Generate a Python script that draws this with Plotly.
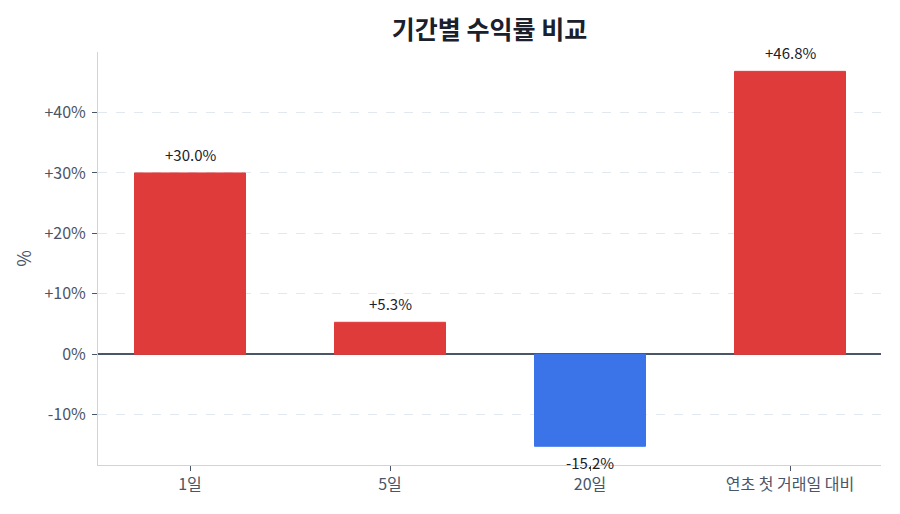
import plotly.graph_objects as go

# 기간별 수익률 데이터
periods = ["1일", "5일", "20일", "연초 첫 거래일 대비"]
returns = [30.0, 5.3, -15.2, 46.8]

tick_vals = [-10, 0, 10, 20, 30, 40]
tick_text = ["-10%", "0%", "+10%", "+20%", "+30%", "+40%"]

# 상승은 빨강, 하락은 파랑
colors = ["#e03b3b" if r >= 0 else "#3b73e9" for r in returns]
labels = [f"{r:+.1f}%" for r in returns]

fig = go.Figure(
    go.Bar(
        x=periods,
        y=returns,
        width=0.555,
        marker=dict(color=colors, line=dict(color=colors, width=1)),
        cliponaxis=False,
    )
)

# 막대 위/아래 수익률 라벨
for p, r, t in zip(periods, returns, labels):
    fig.add_annotation(
        x=p,
        y=r,
        text=t,
        showarrow=False,
        yanchor="bottom" if r >= 0 else "top",
        yshift=6 if r >= 0 else -4,
        font=dict(size=15, color="#1a202c"),
    )

fig.update_layout(
    title=dict(
        text="<b>기간별 수익률 비교</b>",
        xref="paper",
        x=0.5,
        xanchor="center",
        yref="container",
        y=1 - 22 / 514,
        yanchor="middle",
        font=dict(size=25, color="#1a202c"),
    ),
    font=dict(family="Noto Sans CJK KR, Noto Sans, sans-serif", size=16, color="#4a5568"),
    width=900,
    height=514,
    margin=dict(l=90, r=27, t=44, b=57),
    plot_bgcolor="white",
    paper_bgcolor="white",
    showlegend=False,
)

fig.update_xaxes(
    range=[-0.46, 3.455],
    showline=True,
    linecolor="#cbd5e1",
    linewidth=1,
    ticks="outside",
    ticklen=5,
    tickcolor="#4a5568",
    showgrid=False,
)

fig.update_yaxes(
    title=dict(text="%", font=dict(size=18, color="#4a5568"), standoff=8),
    range=[-18.3, 50],
    tickvals=tick_vals,
    ticktext=tick_text,
    ticklabelstandoff=3,
    showline=True,
    linecolor="#cbd5e1",
    linewidth=1,
    ticks="outside",
    ticklen=5,
    tickcolor="#4a5568",
    showgrid=True,
    gridcolor="#e2e8f0",
    griddash="dash",
    zeroline=True,
    zerolinecolor="#4a5568",
    zerolinewidth=1.5,
)

fig.write_html("out.html")
